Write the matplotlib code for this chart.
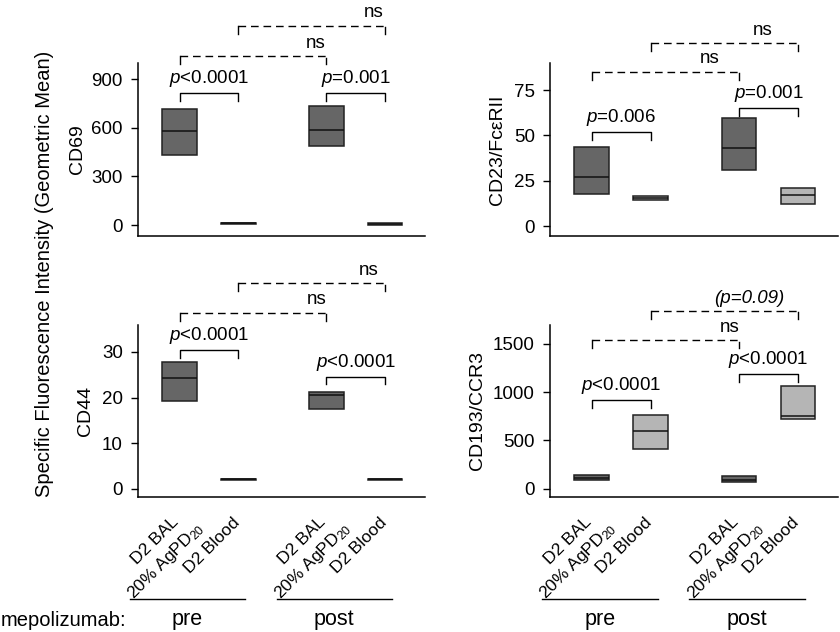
import numpy as np
import matplotlib
matplotlib.use('Agg')
import matplotlib.pyplot as plt
from matplotlib.transforms import blended_transform_factory

plt.rcParams['font.family'] = 'Liberation Sans'
plt.rcParams['mathtext.fontset'] = 'custom'
plt.rcParams['mathtext.rm'] = 'Liberation Sans'
plt.rcParams['mathtext.it'] = 'Liberation Sans:italic'

# groups: pre BAL, pre blood, post BAL, post blood
positions = [1, 2, 3.5, 4.5]
tick_labels = ['D2 BAL', 'D2 Blood', 'D2 BAL', 'D2 Blood']
bal_sub = '20% AgPD$_{20}$'
group_names = ['pre', 'post']
box_colors = ['#666666', '#b5b5b5', '#666666', '#b5b5b5']

# CD69
cd69_q1 = [435, 9, 490, 2]
cd69_med = [582, 12, 588, 8]
cd69_q3 = [716, 15, 735, 16]
cd69_p = ['$p$<0.0001', '$p$=0.001']
cd69_ns = ['ns', 'ns']

# CD23/FceRII
cd23_q1 = [17.5, 14.5, 31.1, 12.3]
cd23_med = [27.2, 15.5, 42.9, 17.1]
cd23_q3 = [43.6, 16.6, 59.4, 20.8]
cd23_p = ['$p$=0.006', '$p$=0.001']
cd23_ns = ['ns', 'ns']

# CD44
cd44_q1 = [19.3, 2.0, 17.5, 2.0]
cd44_med = [24.3, 2.1, 20.5, 2.1]
cd44_q3 = [27.7, 2.2, 21.2, 2.2]
cd44_p = ['$p$<0.0001', '$p$<0.0001']
cd44_ns = ['ns', 'ns']

# CD193/CCR3
cd193_q1 = [87, 410, 70, 721]
cd193_med = [114, 600, 90, 748]
cd193_q3 = [145, 763, 135, 1064]
cd193_p = ['$p$<0.0001', '$p$<0.0001']
cd193_ns = ['ns', '(p=0.09)']

PX = 72 / 100  # points per pixel at dpi 100


def draw_panel(ax, ylabel, q1, med, q3, ylim, yticks, solid_y, p_txt, dash_y, ns_txt, ns_x):
    stats = [dict(med=m, q1=a, q3=b, whislo=a, whishi=b) for a, m, b in zip(q1, med, q3)]
    bp = ax.bxp(stats, positions=positions, widths=0.59, patch_artist=True,
                showcaps=False, showfliers=False,
                boxprops=dict(lw=1.1, edgecolor='#222222'),
                medianprops=dict(color='#111111', lw=1.1),
                whiskerprops=dict(lw=0))
    for patch, c in zip(bp['boxes'], box_colors):
        patch.set_facecolor(c)

    ax.set_xlim(0.29, 5.18)
    ax.set_ylim(*ylim)
    ax.set_yticks(yticks)
    ax.set_xticks(positions, [])
    ax.tick_params(axis='x', length=0)
    ax.tick_params(axis='y', length=5, width=1, pad=6, labelsize=13.5)
    for s in ['top', 'right']:
        ax.spines[s].set_visible(False)
    for s in ['left', 'bottom']:
        ax.spines[s].set_linewidth(1.1)
    ax.set_ylabel(ylabel, fontsize=14)

    leg = 0.046 * (ylim[1] - ylim[0])
    # solid brackets BAL vs blood
    pairs = [(positions[0], positions[1]), (positions[2], positions[3])]
    for (x0, x1), y, t in zip(pairs, solid_y, p_txt):
        ax.plot([x0, x0, x1, x1], [y - leg, y, y, y - leg], color='k', lw=1, clip_on=False)
        ax.annotate(t, xy=((x0 + x1) / 2, y), xytext=(0, 7), textcoords='offset points',
                    ha='center', va='baseline', fontsize=13.5, annotation_clip=False)
    # dashed brackets pre vs post
    pairs = [(positions[0], positions[2]), (positions[1], positions[3])]
    for (x0, x1), y, t, tx in zip(pairs, dash_y, ns_txt, ns_x):
        ax.plot([x0, x1], [y, y], color='k', lw=1, ls=(0, (5.5, 3.5)), clip_on=False)
        ax.plot([x0, x0], [y, y - leg], color='k', lw=1, clip_on=False)
        ax.plot([x1, x1], [y - 0.2 * leg, y - leg], color='k', lw=1, clip_on=False)
        style = 'italic' if t.startswith('(') else 'normal'
        ax.annotate(t, xy=(tx, y), xytext=(0, 6), textcoords='offset points', style=style,
                    ha='center', va='baseline', fontsize=13.5, annotation_clip=False)


def label_x(ax):
    # rotated condition labels under the bottom panels
    for i, (x, t) in enumerate(zip(positions, tick_labels)):
        dx = 0 if i % 2 == 0 else 2
        ax.annotate(t, xy=(x, 0), xycoords=('data', 'axes fraction'),
                    xytext=(dx * PX, -26 * PX), textcoords='offset points', rotation=45,
                    ha='right', va='baseline', rotation_mode='anchor', fontsize=12.5,
                    annotation_clip=False)
        if i % 2 == 0:
            ax.annotate(bal_sub, xy=(x, 0), xycoords=('data', 'axes fraction'),
                        xytext=(25 * PX, -32 * PX), textcoords='offset points', rotation=45,
                        ha='right', va='baseline', rotation_mode='anchor', fontsize=12.5,
                        annotation_clip=False)


fig = plt.figure(figsize=(8.4, 6.32), dpi=100)
W, H = 840, 632
ax1 = fig.add_axes([138 / W, 1 - 236 / H, 287 / W, 173 / H])
ax2 = fig.add_axes([550 / W, 1 - 236 / H, 288 / W, 173 / H])
ax3 = fig.add_axes([138 / W, 1 - 497 / H, 287 / W, 172 / H])
ax4 = fig.add_axes([550 / W, 1 - 497 / H, 288 / W, 172 / H])

draw_panel(ax1, 'CD69', cd69_q1, cd69_med, cd69_q3, (-67, 1000), [0, 300, 600, 900],
           [814, 814], cd69_p, [1041, 1231], cd69_ns, [3.31, 4.31])
draw_panel(ax2, 'CD23/Fc\u03b5RII', cd23_q1, cd23_med, cd23_q3, (-5.5, 90), [0, 25, 50, 75],
           [51.9, 65.3], cd23_p, [85.2, 100.8], cd23_ns, [3.0, 3.9])
draw_panel(ax3, 'CD44', cd44_q1, cd44_med, cd44_q3, (-1.8, 35.9), [0, 10, 20, 30],
           [30.4, 24.6], cd44_p, [38.6, 45.0], cd44_ns, [3.34, 4.22])
draw_panel(ax4, 'CD193/CCR3', cd193_q1, cd193_med, cd193_q3, (-86, 1694), [0, 500, 1000, 1500],
           [922, 1189], cd193_p, [1535, 1840], cd193_ns, [3.34, 3.68])

ax1.yaxis.set_label_coords(-0.181, 0.5)
ax2.yaxis.set_label_coords(-0.153, 0.5)
ax3.yaxis.set_label_coords(-0.153, 0.5)
ax4.yaxis.set_label_coords(-0.222, 0.5)

for ax in (ax3, ax4):
    label_x(ax)
    # pre / post group lines
    tr = blended_transform_factory(ax.transData, fig.transFigure)
    spans = [(positions[0] - 0.85, positions[1] + 0.12), (positions[2] - 0.85, positions[3] + 0.12)]
    for (x0, x1), name in zip(spans, group_names):
        ax.plot([x0, x1], [1 - 599 / H, 1 - 599 / H], color='k', lw=1, transform=tr, clip_on=False)
        ax.text((x0 + x1) / 2, 1 - 620 / H, name, transform=tr, ha='center', va='center', fontsize=15.5)

fig.text(1 / W, 1 - 620 / H, 'mepolizumab:', ha='left', va='center', fontsize=14.5)
fig.text(45 / W, 1 - 274 / H, 'Specific Fluorescence Intensity (Geometric Mean)',
         rotation=90, ha='center', va='center', fontsize=14.5)

fig.savefig('out.png', dpi=100)
